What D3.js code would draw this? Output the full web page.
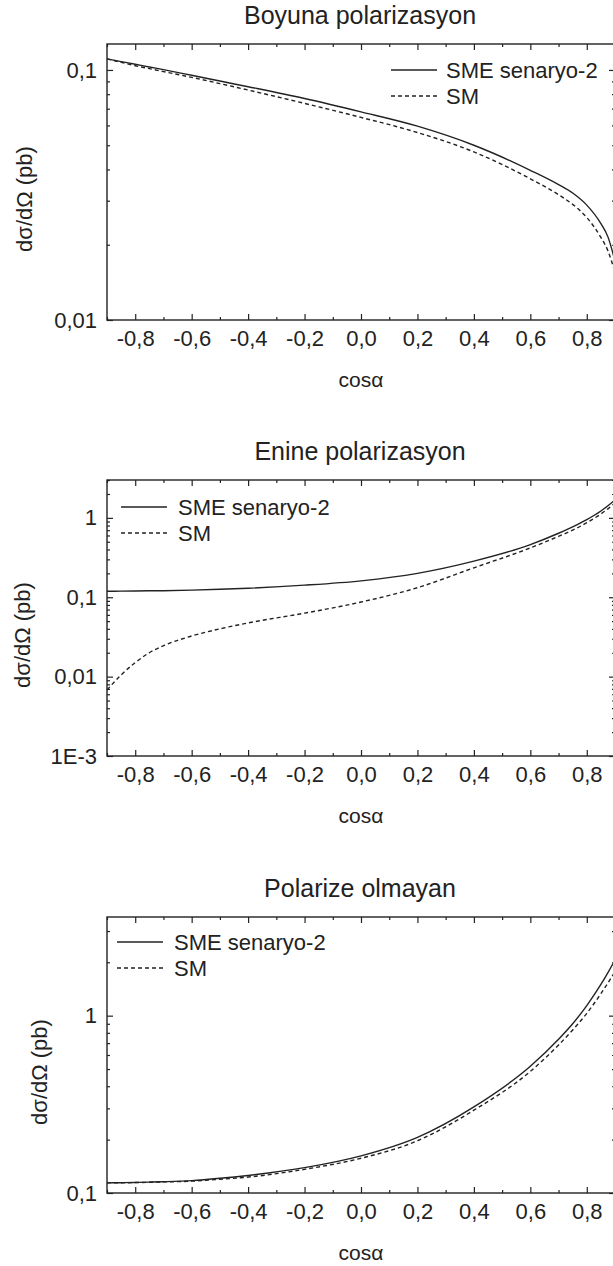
<!DOCTYPE html>
<html>
<head>
<meta charset="utf-8" />
<style>
*{margin:0;padding:0;}
body{background:#fff;}
svg{display:block;font-family:"Liberation Sans",Arial,sans-serif;}
</style>
</head>
<body>
<script src="https://cdn.jsdelivr.net/npm/d3@7"></script>
<script>
// cosα değerleri (ortak x ekseni)
var cosAlpha = [-0.9,-0.85,-0.8,-0.75,-0.7,-0.6,-0.5,-0.4,-0.2,0,0.2,0.4,0.6,0.7,0.75,0.8,0.85,0.875,0.9];

// Boyuna polarizasyon
var boyunaSME = [0.1107,0.108,0.1054,0.1028,0.1003,0.0952,0.0903,0.0857,0.0769,0.0680,0.0596,0.0500,0.0397,0.0348,0.0322,0.0288,0.0243,0.0215,0.0172];
var boyunaSM  = [0.1107,0.1073,0.1040,0.1012,0.0985,0.0934,0.0882,0.0831,0.0735,0.0646,0.0562,0.0470,0.0367,0.0317,0.0290,0.0257,0.0214,0.0189,0.0155];

// Enine polarizasyon
var enineSME = [0.119,0.1195,0.120,0.1205,0.121,0.123,0.126,0.130,0.142,0.161,0.200,0.285,0.460,0.640,0.770,0.95,1.22,1.42,1.68];
var enineSM  = [0.0068,0.0105,0.0150,0.0200,0.0245,0.0325,0.0400,0.0475,0.063,0.087,0.132,0.235,0.418,0.585,0.700,0.87,1.12,1.30,1.54];

// Polarize olmayan
var polsuzSME = [0.114,0.1143,0.1147,0.1152,0.1158,0.1175,0.121,0.1256,0.139,0.162,0.206,0.306,0.518,0.736,0.90,1.14,1.50,1.75,2.06];
var polsuzSM  = [0.114,0.1142,0.1145,0.1149,0.1155,0.1166,0.1195,0.123,0.136,0.157,0.197,0.293,0.485,0.683,0.83,1.03,1.33,1.53,1.77];

var xTicks = [-0.8,-0.6,-0.4,-0.2,0,0.2,0.4,0.6,0.8];
var xTickLabels = ["-0,8","-0,6","-0,4","-0,2","0,0","0,2","0,4","0,6","0,8"];
var xMinorTicks = [-0.9,-0.7,-0.5,-0.3,-0.1,0.1,0.3,0.5,0.7,0.9];

var titles = ["Boyuna polarizasyon","Enine polarizasyon","Polarize olmayan"];
var seriesNames = ["SME senaryo-2","SM"];
var yDomains = [[0.01,0.127],[0.001,3],[0.1,3.6]];
var yTicks = [[0.01,0.1],[0.001,0.01,0.1,1],[0.1,1]];
var yTickLabels = [["0,01","0,1"],["1E-3","0,01","0,1","1"],["0,1","1"]];

var panels = [
  {title:titles[0], sme:boyunaSME, sm:boyunaSM, dom:yDomains[0], ticks:yTicks[0], labels:yTickLabels[0]},
  {title:titles[1], sme:enineSME, sm:enineSM, dom:yDomains[1], ticks:yTicks[1], labels:yTickLabels[1]},
  {title:titles[2], sme:polsuzSME, sm:polsuzSM, dom:yDomains[2], ticks:yTicks[2], labels:yTickLabels[2]}
];

// yerleşim
var W = 613, H = 1266;
var left = 107, right = 615, plotH = 276;
var tops = [44, 480, 917];
var legendPos = [{lx:391, tx:446, y:26}, {lx:121, tx:178, y:27}, {lx:117, tx:174, y:25}];
var ylabX = [25, 23, 40];
var ink = "#222";

var svg = d3.select("body").append("svg").attr("width", W).attr("height", H);

var x = d3.scaleLinear().domain([-0.9, 0.9]).range([left, right]);

function minorLog(dom){
  var out = [];
  var lo = Math.floor(Math.log10(dom[0])), hi = Math.ceil(Math.log10(dom[1]));
  for(var e = lo; e <= hi; e++){
    for(var m = 2; m <= 9; m++){
      var v = m * Math.pow(10, e);
      if(v > dom[0] && v <= dom[1] * 1.0001) out.push(v);
    }
  }
  return out;
}

panels.forEach(function(p, i){
  var top = tops[i], bottom = top + plotH;
  var y = d3.scaleLog().domain(p.dom).range([bottom, top]);
  var g = svg.append("g");

  g.append("text")
    .attr("x", (left + right) / 2 - 1).attr("y", top - 20)
    .attr("text-anchor", "middle").attr("font-size", 25).attr("fill", ink)
    .text(p.title);

  // alt ve üst eksenler
  g.append("g").attr("transform", "translate(0," + bottom + ")")
    .call(d3.axisBottom(x).tickValues(xTicks).tickSize(-6).tickPadding(10)
      .tickFormat(function(d, j){ return xTickLabels[j]; }));
  g.append("g").attr("transform", "translate(0," + bottom + ")")
    .call(d3.axisBottom(x).tickValues(xMinorTicks).tickSize(-3).tickFormat(""));
  g.append("g").attr("transform", "translate(0," + top + ")")
    .call(d3.axisTop(x).tickValues(xTicks).tickSize(-6).tickFormat(""));
  g.append("g").attr("transform", "translate(0," + top + ")")
    .call(d3.axisTop(x).tickValues(xMinorTicks).tickSize(-3).tickFormat(""));

  // sol ve sağ eksenler
  g.append("g").attr("transform", "translate(" + left + ",0)")
    .call(d3.axisLeft(y).tickValues(p.ticks).tickSize(-6).tickPadding(10)
      .tickFormat(function(d, j){ return p.labels[j]; }));
  g.append("g").attr("transform", "translate(" + left + ",0)")
    .call(d3.axisLeft(y).tickValues(minorLog(p.dom)).tickSize(-3).tickFormat(""));
  g.append("g").attr("transform", "translate(" + right + ",0)")
    .call(d3.axisRight(y).tickValues(p.ticks).tickSize(-6).tickFormat(""));
  g.append("g").attr("transform", "translate(" + right + ",0)")
    .call(d3.axisRight(y).tickValues(minorLog(p.dom)).tickSize(-3).tickFormat(""));

  g.selectAll(".domain").remove();
  g.selectAll(".tick line").attr("stroke", ink).attr("stroke-width", 1.2);
  g.selectAll(".tick text").attr("fill", ink).attr("font-size", 22)
    .attr("font-family", "'Liberation Sans',Arial,sans-serif");

  g.append("rect").attr("x", left).attr("y", top)
    .attr("width", right - left).attr("height", plotH)
    .attr("fill", "none").attr("stroke", ink).attr("stroke-width", 1.4);

  var line = d3.line()
    .x(function(d, j){ return x(cosAlpha[j]); })
    .y(function(d){ return y(d); })
    .curve(d3.curveMonotoneX);

  g.append("path").datum(p.sme).attr("d", line)
    .attr("fill", "none").attr("stroke", ink).attr("stroke-width", 1.4);
  g.append("path").datum(p.sm).attr("d", line)
    .attr("fill", "none").attr("stroke", ink).attr("stroke-width", 1.4)
    .attr("stroke-dasharray", "4,3");

  // açıklama
  var lp = legendPos[i];
  [0, 1].forEach(function(k){
    var ly = top + lp.y + k * 26;
    g.append("line").attr("x1", lp.lx).attr("x2", lp.lx + 46)
      .attr("y1", ly).attr("y2", ly)
      .attr("stroke", ink).attr("stroke-width", 1.4)
      .attr("stroke-dasharray", k ? "4,3" : null);
    g.append("text").attr("x", lp.tx).attr("y", ly + 8)
      .attr("font-size", 22).attr("fill", ink).text(seriesNames[k]);
  });

  // eksen adları
  g.append("text")
    .attr("transform", "translate(" + (ylabX[i] + 7) + "," + (top + plotH / 2 + 17) + ") rotate(-90)")
    .attr("text-anchor", "middle").attr("font-size", 22).attr("fill", ink)
    .text("dσ/dΩ (pb)");
  g.append("text")
    .attr("x", (left + right) / 2).attr("y", bottom + 67)
    .attr("text-anchor", "middle").attr("font-size", 21).attr("fill", ink)
    .text("cosα");
});
</script>
</body>
</html>
